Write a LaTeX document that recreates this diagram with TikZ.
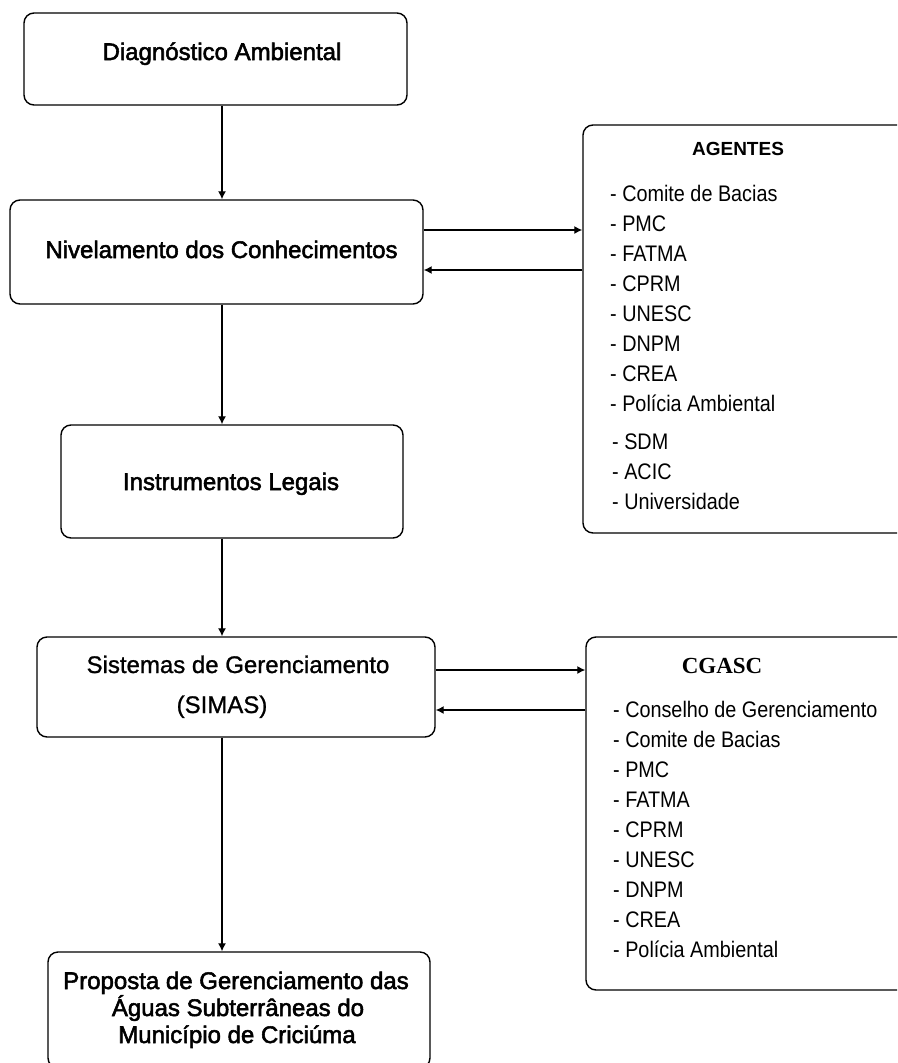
\documentclass[tikz,border=0pt]{standalone}
\usepackage{fontspec}
\setmainfont{Liberation Sans}
\newfontfamily\boxfont[FakeBold=2.2]{Liberation Sans}
\newfontfamily\plainfont[FakeBold=1]{Liberation Sans}
\newfontfamily\itemfont[FakeStretch=0.88]{Liberation Sans}
\newfontfamily\serifbold{Liberation Serif}
\usetikzlibrary{arrows.meta}
\begin{document}
\begin{tikzpicture}[x=1pt,y=-1pt,
  box/.style={draw=black,line width=1.4pt,rounded corners=10pt,inner sep=0pt,fill=none},
  arr/.style={line width=1.3pt,-{Latex[length=8pt,width=8pt]}},
  lbl/.style={anchor=base,inner sep=0pt,font=\boxfont\fontsize{24}{27}\selectfont},
  item/.style={anchor=base west,inner sep=0pt,font=\itemfont\fontsize{22.5}{26}\selectfont}]
\clip (0,0) rectangle (897,1063);
\fill[white] (0,0) rectangle (897,1063);
% main boxes
\node[box,minimum width=383pt,minimum height=92pt] (b1) at (215.5,59) {};
\node[box,minimum width=413pt,minimum height=104pt] (b2) at (216.5,252) {};
\node[box,minimum width=342pt,minimum height=113pt] (b3) at (232,481.5) {};
\node[box,minimum width=398pt,minimum height=100pt] (b4) at (236,687) {};
\node[box,minimum width=382pt,minimum height=116pt] (b5) at (239,1010) {};
% side boxes
\node[box,minimum width=337pt,minimum height=408pt] (ag) at (751.5,329) {};
\node[box,minimum width=334pt,minimum height=353pt] (cg) at (753,813.5) {};
% labels
\node[lbl] (t1) at (222,60) {Diagnóstico Ambiental};
\node[lbl] (t2) at (221.5,258) {Nivelamento dos Conhecimentos};
\node[lbl] (t3) at (231,490) {Instrumentos Legais};
\node[lbl,font=\plainfont\fontsize{24}{27}\selectfont] (t4a) at (238,673) {Sistemas de Gerenciamento};
\node[lbl,font=\plainfont\fontsize{24}{27}\selectfont] (t4b) at (222,713) {(SIMAS)};
\node[lbl] (t5a) at (236,989) {Proposta de Gerenciamento das};
\node[lbl] (t5b) at (238,1016) {Águas Subterrâneas do};
\node[lbl] (t5c) at (237,1043) {Município de Criciúma};
\node[anchor=base,inner sep=0pt,font=\fontsize{19}{22}\selectfont\bfseries] (agt) at (738,155) {AGENTES};
\node[anchor=base,inner sep=0pt,font=\serifbold\fontsize{23}{26}\selectfont\bfseries] (cgt) at (722,673) {CGASC};
% agentes items
\foreach \t [count=\i] in {Comite de Bacias,PMC,FATMA,CPRM,UNESC,DNPM,CREA,Polícia Ambiental}
  \node[item] (ai\i) at (610,{201+30*(\i-1)}) {- \t};
\foreach \t [count=\i] in {SDM,ACIC,Universidade}
  \node[item] (aj\i) at (612,{449+30*(\i-1)}) {- \t};
% cgasc items
\foreach \t [count=\i] in {Conselho de Gerenciamento,Comite de Bacias,PMC,FATMA,CPRM,UNESC,DNPM,CREA,Polícia Ambiental}
  \node[item] (ci\i) at (613,{717+30*(\i-1)}) {- \t};
% vertical connectors
\draw[arr] (b1.south -| 222,0) -- (b2.north -| 222,0);
\draw[arr] (b2.south -| 222,0) -- (b3.north -| 222,0);
\draw[arr] (b3.south -| 222,0) -- (b4.north -| 222,0);
\draw[arr] (b4.south -| 222,0) -- (b5.north -| 222,0);
% side connectors
\draw[arr] (b2.east |- 0,230) -- (ag.west |- 0,230);
\draw[arr] (ag.west |- 0,270) -- (b2.east |- 0,270);
\draw[arr] (b4.east |- 0,670) -- (cg.west |- 0,670);
\draw[arr] (cg.west |- 0,710) -- (b4.east |- 0,710);
\end{tikzpicture}
\end{document}
